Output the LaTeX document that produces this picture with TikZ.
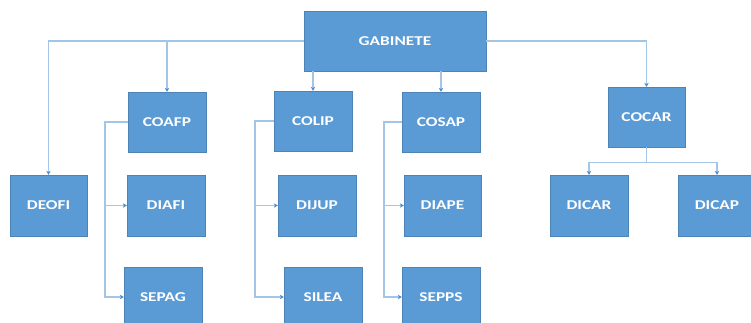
\documentclass[tikz,border=0pt]{standalone}
\usepackage{fontspec}
\setmainfont{Carlito}[FakeStretch=1.28]
\usetikzlibrary{arrows.meta,calc}
\definecolor{boxblue}{HTML}{5B9BD5}
\definecolor{linkblue}{HTML}{A3C6E8}
\definecolor{tipblue}{HTML}{4A8BCB}
\tikzset{
  unit/.style={rectangle, fill=boxblue, draw=boxblue!85!black, line width=0.4pt,
    minimum width=78pt, minimum height=60pt, inner sep=0pt,
    text=white, font=\fontsize{13.5}{15}\selectfont\bfseries},
  link/.style={draw=linkblue, line width=1.3pt},
  arrowlink/.style={link, -{Stealth[length=4pt,width=4.5pt,color=tipblue]}}
}
\begin{document}
\begin{tikzpicture}[x=1pt,y=-1pt]
\useasboundingbox (0,0) rectangle (751,322);
\clip (0,0) rectangle (751,322);
\fill[white] (0,0) rectangle (751,322);

% top level
\node[unit, minimum width=182pt] (gab) at (395,41) {GABINETE};

% coordinations
\node[unit] (coafp) at (167,122) {COAFP};
\node[unit] (colip) at (313,121) {COLIP};
\node[unit] (cosap) at (441,122) {COSAP};
\node[unit, minimum width=77pt] (cocar) at (646.5,117) {COCAR};

% directorates
\node[unit, minimum width=77pt, minimum height=61pt] (deofi) at (48.5,205.5) {DEOFI};
\node[unit, minimum height=61pt] (diafi) at (166,205.5) {DIAFI};
\node[unit, minimum height=61pt] (dijup) at (317,205.5) {DIJUP};
\node[unit, minimum width=77pt, minimum height=61pt] (diape) at (442.5,205.5) {DIAPE};
\node[unit, minimum height=61pt] (dicar) at (589,205.5) {DICAR};
\node[unit, minimum height=61pt] (dicap) at (717,205.5) {DICAP};

% sections
\node[unit] (sepag) at (163,297) {SEPAG};
\node[unit] (silea) at (323,297) {SILEA};
\node[unit] (sepps) at (441,297) {SEPPS};

% branch points of the side brackets
\coordinate (ca) at (105,122);
\coordinate (cl) at (255,121);
\coordinate (cs) at (384,122);

% links from the cabinet
\draw[arrowlink] (gab.west) -| (deofi.north);
\draw[arrowlink] (gab.west) -| (coafp.north);
\draw[arrowlink] (gab.south -| colip.north) -- (colip.north);
\draw[arrowlink] (gab.south -| cosap.north) -- (cosap.north);
\draw[arrowlink] (gab.east) -| (cocar.north);

% side brackets
\draw[arrowlink] (coafp.west) -- (ca) |- (diafi.west);
\draw[arrowlink] (ca) |- (sepag.west);
\draw[arrowlink] (colip.west) -- (cl) |- (dijup.west);
\draw[arrowlink] (cl) |- (silea.west);
\draw[arrowlink] (cosap.west) -- (cs) |- (diape.west);
\draw[arrowlink] (cs) |- (sepps.west);

% COCAR split
\coordinate (cc) at ($(cocar.south)+(0,15)$);
\draw[link] (cocar.south) -- (cc);
\draw[arrowlink] (cc) -| (dicar.north);
\draw[arrowlink] (cc) -| (dicap.north);
\end{tikzpicture}
\end{document}
